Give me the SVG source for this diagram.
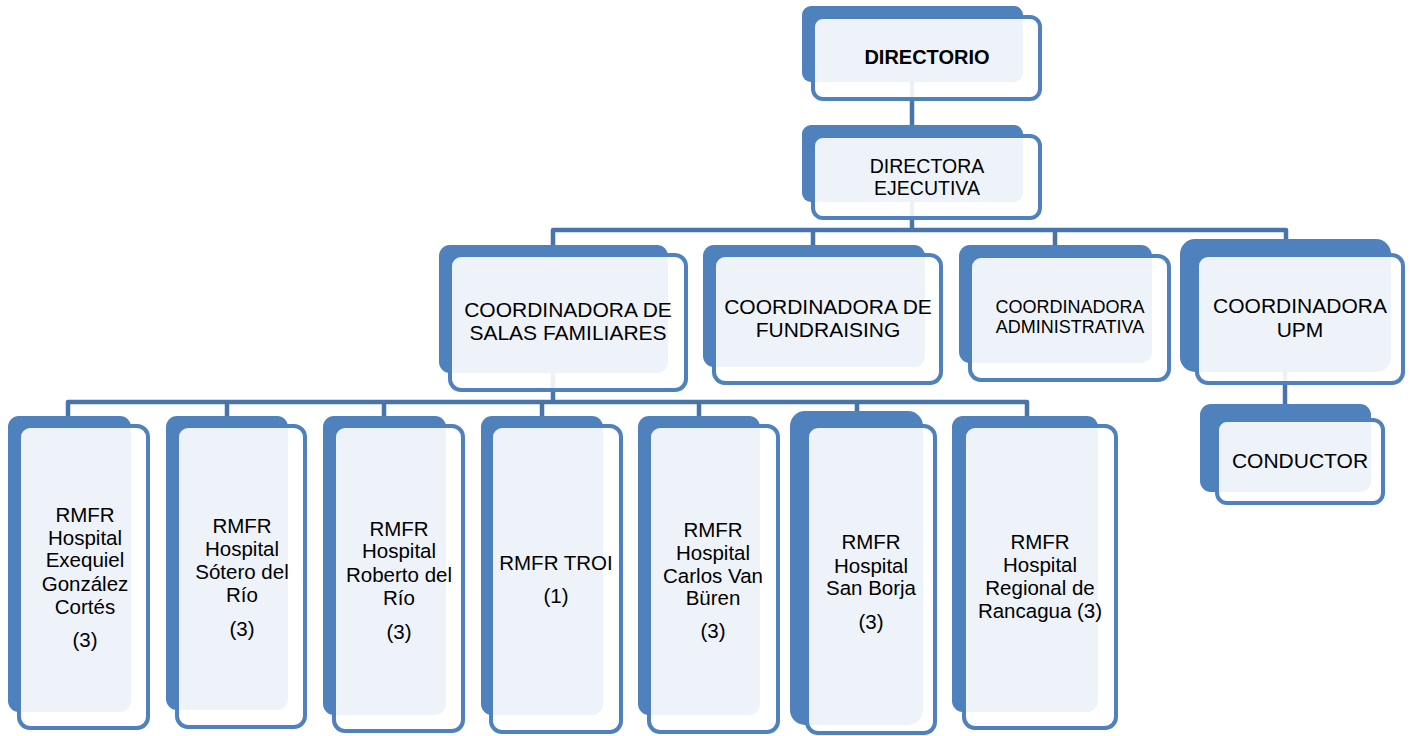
<svg xmlns="http://www.w3.org/2000/svg" width="1411" height="736" viewBox="0 0 1411 736">
<style>
.bk{fill:#4F81BD}
.fr{fill:#FFFFFF;fill-opacity:0.9;stroke:#4F81BD;stroke-width:4}
.cn{fill:none;stroke:#4774AB;stroke-width:4.5;stroke-linejoin:round}
text{font-family:"Liberation Sans",Arial,sans-serif;fill:#000;text-anchor:middle}
.t21{font-size:21px}
.t20{font-size:20.5px}
</style>
<rect width="1411" height="736" fill="#FFFFFF"/>
<g id="connectors">
<path class="cn" d="M912,60 V130"/>
<path class="cn" d="M912,180 V230 M553,250 V230 H1286 V250 M813,230 V250 M1055,230 V250"/>
<path class="cn" d="M553,350 V402 M68,420 V402 H1027 V420 M227,402 V420 M384,402 V420 M542,402 V420 M699,402 V420 M857,402 V420"/>
<path class="cn" d="M1285,360 V412"/>
</g>
<g id="directorio">
<rect class="bk" x="802" y="6" width="221" height="76" rx="9"/>
<rect class="fr" x="813" y="17" width="227" height="82" rx="10"/>
<text x="927" y="64" style="font-size:20px;font-weight:bold">DIRECTORIO</text>
</g>
<g id="directora">
<rect class="bk" x="802" y="125" width="221" height="77" rx="9"/>
<rect class="fr" x="813" y="136" width="227" height="82" rx="10"/>
<text x="927" y="173" style="font-size:19.5px">DIRECTORA</text>
<text x="927" y="195" style="font-size:19.5px">EJECUTIVA</text>
</g>
<g id="salas">
<rect class="bk" x="439" y="245" width="229" height="128" rx="11"/>
<rect class="fr" x="450" y="255" width="236" height="135" rx="11"/>
<text class="t21" x="568" y="317">COORDINADORA DE</text>
<text class="t21" x="568" y="340">SALAS FAMILIARES</text>
</g>
<g id="fundraising">
<rect class="bk" x="703" y="245" width="222" height="122" rx="11"/>
<rect class="fr" x="714" y="255" width="227" height="128" rx="11"/>
<text class="t21" x="828" y="314">COORDINADORA DE</text>
<text class="t21" x="828" y="337">FUNDRAISING</text>
</g>
<g id="administrativa">
<rect class="bk" x="959" y="245" width="193" height="118" rx="11"/>
<rect class="fr" x="970" y="256" width="199" height="124" rx="11"/>
<text x="1070" y="313" style="font-size:18px">COORDINADORA</text>
<text x="1070" y="333" style="font-size:18px">ADMINISTRATIVA</text>
</g>
<g id="upm">
<rect class="bk" x="1180" y="239" width="211" height="133" rx="15"/>
<rect class="fr" x="1197" y="255" width="206" height="128" rx="11"/>
<text class="t21" x="1300" y="313">COORDINADORA</text>
<text class="t21" x="1300" y="337">UPM</text>
</g>
<g id="conductor">
<rect class="bk" x="1200" y="404" width="171" height="88" rx="11"/>
<rect class="fr" x="1217" y="420" width="166" height="83" rx="10"/>
<text class="t21" x="1300" y="468">CONDUCTOR</text>
</g>
<g id="rmfr-exequiel">
<rect class="bk" x="8" y="416" width="123" height="296" rx="11"/>
<rect class="fr" x="19" y="426" width="129" height="302" rx="11"/>
<text class="t20" x="85" y="522">RMFR</text>
<text class="t20" x="85" y="545">Hospital</text>
<text class="t20" x="85" y="567">Exequiel</text>
<text class="t20" x="85" y="591">González</text>
<text class="t20" x="85" y="614">Cortés</text>
<text class="t20" x="85" y="647">(3)</text>
</g>
<g id="rmfr-sotero">
<rect class="bk" x="166" y="416" width="122" height="294" rx="11"/>
<rect class="fr" x="177" y="426" width="128" height="301" rx="11"/>
<text class="t20" x="242" y="533">RMFR</text>
<text class="t20" x="242" y="556">Hospital</text>
<text class="t20" x="242" y="579">Sótero del</text>
<text class="t20" x="242" y="602">Río</text>
<text class="t20" x="242" y="636">(3)</text>
</g>
<g id="rmfr-roberto">
<rect class="bk" x="323" y="416" width="123" height="299" rx="11"/>
<rect class="fr" x="334" y="426" width="129" height="305" rx="11"/>
<text class="t20" x="399" y="536">RMFR</text>
<text class="t20" x="399" y="558">Hospital</text>
<text class="t20" x="399" y="582">Roberto del</text>
<text class="t20" x="399" y="605">Río</text>
<text class="t20" x="399" y="639">(3)</text>
</g>
<g id="rmfr-troi">
<rect class="bk" x="481" y="416" width="122" height="299" rx="11"/>
<rect class="fr" x="491" y="426" width="130" height="306" rx="11"/>
<text class="t20" x="556" y="570">RMFR TROI</text>
<text class="t20" x="556" y="603">(1)</text>
</g>
<g id="rmfr-vanburen">
<rect class="bk" x="638" y="416" width="122" height="299" rx="11"/>
<rect class="fr" x="649" y="426" width="129" height="306" rx="11"/>
<text class="t20" x="713" y="537">RMFR</text>
<text class="t20" x="713" y="560">Hospital</text>
<text class="t20" x="713" y="583">Carlos Van</text>
<text class="t20" x="713" y="605">Büren</text>
<text class="t20" x="713" y="638">(3)</text>
</g>
<g id="rmfr-sanborja">
<rect class="bk" x="790" y="411" width="133" height="314" rx="15"/>
<rect class="fr" x="807" y="426" width="128" height="307" rx="11"/>
<text class="t20" x="871" y="549">RMFR</text>
<text class="t20" x="871" y="573">Hospital</text>
<text class="t20" x="871" y="595">San Borja</text>
<text class="t20" x="871" y="629">(3)</text>
</g>
<g id="rmfr-rancagua">
<rect class="bk" x="952" y="416" width="146" height="296" rx="11"/>
<rect class="fr" x="964" y="426" width="152" height="302" rx="11"/>
<text class="t20" x="1040" y="549">RMFR</text>
<text class="t20" x="1040" y="572">Hospital</text>
<text class="t20" x="1040" y="595">Regional de</text>
<text class="t20" x="1040" y="618">Rancagua (3)</text>
</g>
</svg>
